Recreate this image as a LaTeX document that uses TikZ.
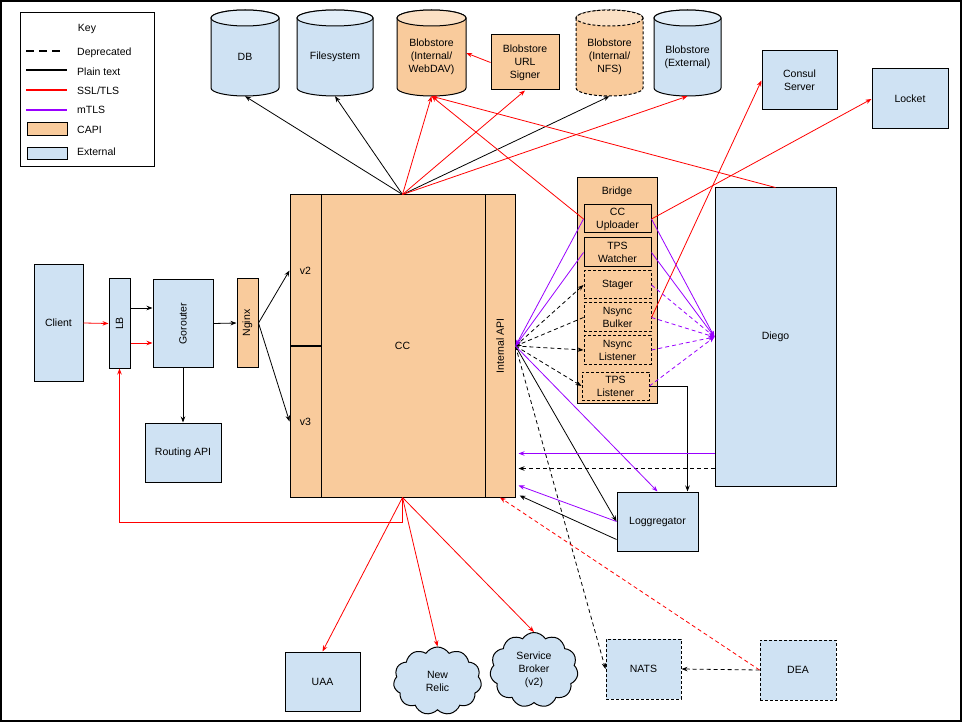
\documentclass[tikz,border=0pt]{standalone}
\usepackage{fontspec}
\setmainfont{Liberation Sans}
\usepackage{graphicx}
\usetikzlibrary{arrows.meta,calc,shapes.symbols}
\definecolor{capi}{HTML}{F9CB9C}
\definecolor{ext}{HTML}{CFE2F3}
\definecolor{mred}{HTML}{FF0000}
\definecolor{mpur}{HTML}{9900FF}
\tikzset{
  txt/.style={inner sep=0pt, font=\fontsize{10.5}{13}\selectfont, align=center},
  sz/.style 2 args={minimum width=#1pt, minimum height=#2pt},
  box/.style={txt, draw, line width=1pt},
  extbox/.style={box, fill=ext},
  capibox/.style={box, fill=capi},
  dbox/.style={dash pattern=on 3pt off 2pt},
  ghost/.style={txt},
  conn/.style={line width=0.8pt, -{Stealth[length=6pt,width=4.5pt]}},
  plain/.style={conn, draw=black},
  tls/.style={conn, draw=mred, -{Stealth[length=6pt,width=4.5pt,fill=mred]}},
  mtls/.style={conn, draw=mpur, -{Stealth[length=6pt,width=4.5pt,fill=mpur]}},
  depr/.style={dash pattern=on 4pt off 3pt},
  cloudbox/.style={txt, cloud, draw, line width=1pt, fill=ext, cloud puffs=11, cloud puff arc=115, aspect=1.25}
}
\newcommand\drawcyl[5]{%
  \path[draw,line width=1pt,fill=#3,#5] (#1-#2,18) -- (#1-#2,88)
    arc[start angle=180,end angle=360,x radius=#2pt,y radius=8pt] -- (#1+#2,18)
    arc[start angle=0,end angle=180,x radius=#2pt,y radius=8pt] -- cycle;
  \path[draw,line width=1pt,fill=#4,#5] (#1,18) ellipse[x radius=#2pt,y radius=8pt];}
\begin{document}
\begin{tikzpicture}[x=1pt,y=-1pt]
\useasboundingbox (0,0) rectangle (962,722);
\draw[line width=1.5pt] (1,1) rectangle (961,721);

% ---------- key
\node[draw, line width=1pt, sz={134}{154}] (key) at (87,90) {};
\node[txt] (keyt) at (87,29) {Key};
\draw[line width=1.5pt, dash pattern=on 8pt off 5pt] (26,51) -- (62,51);
\node[txt, anchor=west] (k1) at (77,53) {Deprecated};
\draw[line width=1.5pt] (26,70) -- (67,70);
\node[txt, anchor=west] (k2) at (77,72) {Plain text};
\draw[line width=1.5pt, mred] (26,90) -- (67,90);
\node[txt, anchor=west] (k3) at (77,91) {SSL/TLS};
\draw[line width=1.5pt, mpur] (26,110) -- (67,110);
\node[txt, anchor=west] (k4) at (77,110) {mTLS};
\draw[line width=1pt, fill=capi] (27,123) rectangle (67,136);
\node[txt, anchor=west] (k5) at (77,130) {CAPI};
\draw[line width=1pt, fill=ext] (27,148) rectangle (67,160);
\node[txt, anchor=west] (k6) at (77,152) {External};

% ---------- storage cylinders
\drawcyl{245}{34}{ext}{ext!60!white}{}
\drawcyl{335}{38}{ext}{ext!60!white}{}
\drawcyl{431.5}{34.5}{capi}{capi!60!white}{}
\drawcyl{609.5}{33.5}{capi}{capi!60!white}{dbox}
\drawcyl{687.5}{33.5}{ext}{ext!60!white}{}
\node[ghost, sz={68}{78}] (db) at (245,57) {DB};
\node[ghost, sz={76}{78}] (fs) at (335,57) {Filesystem};
\node[ghost, sz={69}{78}] (webdav) at (431.5,57) {Blobstore\\(Internal/\\WebDAV)};
\node[ghost, sz={67}{78}] (nfs) at (609.5,57) {Blobstore\\(Internal/\\NFS)};
\node[ghost, sz={67}{78}] (bext) at (687.5,57) {Blobstore\\(External)};
\node[capibox, sz={68}{55}] (signer) at (525,62.5) {Blobstore\\URL\\Signer};

% ---------- left chain
\node[extbox, sz={49}{116}] (client) at (58.5,323) {Client};
\node[extbox, sz={21}{89}] (lb) at (119.5,323.5) {\rotatebox{90}{LB}};
\node[extbox, sz={60}{87}] (gor) at (183,323.5) {\rotatebox{90}{Gorouter}};
\node[capibox, sz={21}{88}] (nginx) at (247.5,323) {\rotatebox{90}{Nginx}};
\node[extbox, sz={76}{59}] (routing) at (183,452.5) {Routing API};

% ---------- CC
\node[capibox, sz={225}{302}] (cc) at (402.5,346) {CC};
\node[capibox, sz={31}{151}] (v2) at (305.5,270.5) {v2};
\node[capibox, sz={31}{151}] (v3) at (305.5,421.5) {v3};
\node[capibox, sz={30}{302}] (intapi) at (500,346) {\rotatebox{90}{Internal API}};

% ---------- bridge
\node[capibox, sz={80}{225}] (bridge) at (617,290.5) {};
\node[txt] (bridgel) at (617,192) {Bridge};
\node[capibox, sz={67}{28}] (ccup) at (617.5,219) {CC\\Uploader};
\node[capibox, sz={67}{29}] (tpsw) at (617.5,252.5) {TPS\\Watcher};
\node[capibox, dbox, sz={67}{28}] (stager) at (617.5,285) {Stager};
\node[capibox, dbox, sz={67}{29}] (bulker) at (617.5,317.5) {Nsync\\Bulker};
\node[capibox, dbox, sz={67}{28}] (nlist) at (617.5,350) {Nsync\\Listener};
\node[capibox, dbox, sz={67}{28}] (tpsl) at (615.5,386) {TPS\\Listener};

% ---------- right side
\node[extbox, sz={121}{298}] (diego) at (775.5,337) {Diego};
\node[extbox, sz={75}{59}] (consul) at (799.5,80.5) {Consul\\Server};
\node[extbox, sz={76}{60}] (locket) at (910,99) {Locket};
\node[extbox, sz={81}{59}] (logg) at (657.5,521.5) {Loggregator};

% ---------- bottom
\node[extbox, dbox, sz={75}{60}] (nats) at (643.5,669) {NATS};
\node[extbox, dbox, sz={76}{60}] (dea) at (798,670) {DEA};
\node[extbox, sz={75}{59}] (uaa) at (322.5,681.5) {UAA};
\node[cloudbox, sz={88}{68}] (nr) at (437.5,681) {New\\Relic};
\node[cloudbox, sz={88}{75}] (sb) at (534,670) {Service\\Broker\\(v2)};

% ---------- connectors: plain
\draw[plain] (cc.north) -- (db.south);
\draw[plain] (cc.north) -- (fs.south);
\draw[plain] (cc.north) -- (nfs.south);
\draw[plain] (lb.east |- 0,308) -- (gor.west |- 0,308);
\draw[plain] (gor.east) -- (nginx.west);
\draw[plain] (gor.south) -- (routing.north);
\draw[plain] (nginx.east) -- (v2.west);
\draw[plain] (nginx.east) -- (v3.west);
\draw[plain] (intapi.east) -- (logg.west);
\draw[plain] (tpsl.east) -| ([xshift=30pt]logg.north);
\draw[plain] ($(logg.south west)+(0,-12)$) -- ($(intapi.south east)+(4,-2)$);

% ---------- connectors: deprecated
\draw[plain, depr] (intapi.east) -- (stager.west);
\draw[plain, depr] (bulker.west) -- (intapi.east);
\draw[plain, depr] (intapi.east) -- (nlist.west);
\draw[plain, depr] (intapi.east) -- (tpsl.west);
\draw[plain, depr] (intapi.east) -- (nats.west);
\draw[plain, depr] (dea.west) -- (nats.east);
\coordinate (dg2) at ($(diego.south west)+(0,-18)$);
\draw[plain, depr] (dg2) -- ([xshift=3pt]intapi.east |- dg2);
\draw[tls, depr] (dea.west) -- (intapi.south);

% ---------- connectors: TLS
\draw[tls] (client.east) -- (lb.west);
\draw[tls] (lb.east |- 0,343) -- (gor.west |- 0,343);
\draw[tls] (cc.north) -- (webdav.south);
\draw[tls] (cc.north) -- (signer.south);
\draw[tls] (cc.north) -- (bext.south);
\draw[tls] (signer.west) -- (webdav.east |- 0,53);
\draw[tls] (ccup.west) -- (webdav.south);
\draw[tls] (diego.north) -- (webdav.south);
\draw[tls] (ccup.east) -- (locket.west);
\draw[tls] (bulker.east) -- (consul.west);
\draw[tls] (cc.south) -- (uaa.north);
\draw[tls] (cc.south) -- (nr.north);
\draw[tls] (cc.south) -- (sb.north);
\draw[tls] (cc.south) -- ++(0,25) -| (lb.south);

% ---------- connectors: mTLS
\draw[mtls] (ccup.west) -- (intapi.east);
\draw[mtls] (tpsw.west) -- (intapi.east);
\draw[mtls] (ccup.east) -- (diego.west);
\draw[mtls] (tpsw.east) -- (diego.west);
\draw[mtls, depr] (stager.east) -- (diego.west);
\draw[mtls, depr] (bulker.east) -- (diego.west);
\draw[mtls, depr] (nlist.east) -- (diego.west);
\draw[mtls, depr] (tpsl.east) -- (diego.west);
\draw[mtls] (intapi.east) -- (logg.north);
\draw[mtls] (logg.west) -- ($(intapi.south east)+(3,-12)$);
\coordinate (dg1) at ($(diego.south west)+(0,-33)$);
\draw[mtls] (dg1) -- ([xshift=3pt]intapi.east |- dg1);
\end{tikzpicture}
\end{document}
